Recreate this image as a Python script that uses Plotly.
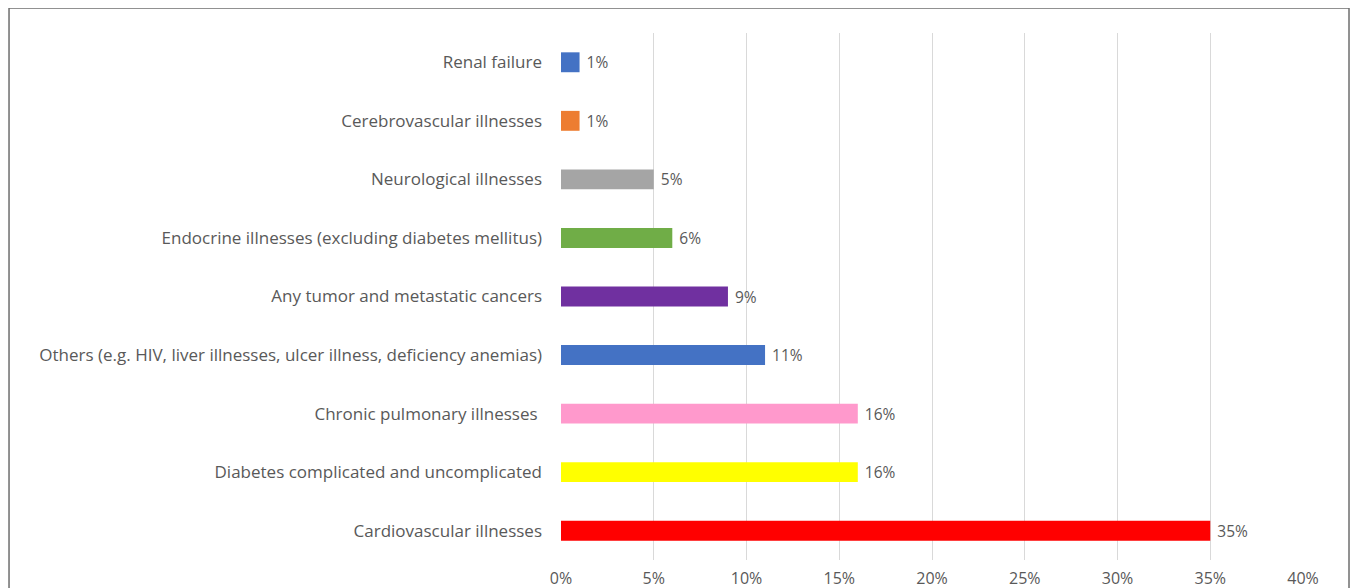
import plotly.graph_objects as go

categories = [
    "Cardiovascular illnesses",
    "Diabetes complicated and uncomplicated",
    "Chronic pulmonary illnesses ",
    "Others (e.g. HIV, liver illnesses, ulcer illness, deficiency anemias)",
    "Any tumor and metastatic cancers",
    "Endocrine illnesses (excluding diabetes mellitus)",
    "Neurological illnesses",
    "Cerebrovascular illnesses",
    "Renal failure",
]
values = [0.35, 0.16, 0.16, 0.11, 0.09, 0.06, 0.05, 0.01, 0.01]
labels = ["35%", "16%", "16%", "11%", "9%", "6%", "5%", "1%", "1%"]
colors = ["#FF0000", "#FFFF00", "#FF99CC", "#4472C4", "#7030A0",
          "#70AD47", "#A5A5A5", "#ED7D31", "#4472C4"]
tick_vals = [0, 0.05, 0.10, 0.15, 0.20, 0.25, 0.30, 0.35, 0.40]
tick_text = ["0%", "5%", "10%", "15%", "20%", "25%", "30%", "35%", "40%"]

FONT = "Open Sans"
GRAY = "#595959"

fig = go.Figure(go.Bar(
    y=categories, x=values, orientation="h",
    marker=dict(color=colors, line=dict(width=0)),
    text=[" " + t for t in labels], textposition="outside",
    constraintext="none",
    textfont=dict(family=FONT, size=15.5, color=GRAY),
    cliponaxis=False, width=0.34,
))

fig.update_layout(
    width=1350, height=580,
    margin=dict(l=553, r=55, t=25, b=28),
    paper_bgcolor="white", plot_bgcolor="white",
    showlegend=False,
    font=dict(family=FONT, size=16, color=GRAY),
    xaxis=dict(range=[0, 0.40], tickvals=tick_vals, ticktext=tick_text,
               showgrid=True, gridcolor="#D9D9D9", gridwidth=1,
               zeroline=False, showline=False, ticklabelstandoff=7,
               automargin=False,
               tickfont=dict(family=FONT, size=16, color=GRAY)),
    yaxis=dict(categoryorder="array", categoryarray=categories,
               range=[-0.5, len(categories) - 0.5],
               showgrid=False, zeroline=False, showline=False,
               ticklabelstandoff=18, automargin=False,
               tickfont=dict(family=FONT, size=17, color=GRAY)),
    shapes=[dict(type="rect", xref="paper", yref="paper",
                 x0=-0.7439, x1=1.062, y0=-0.08, y1=1.0474,
                 line=dict(color="#6E6E6E", width=1.5))],
)

fig.write_html("out.html")
